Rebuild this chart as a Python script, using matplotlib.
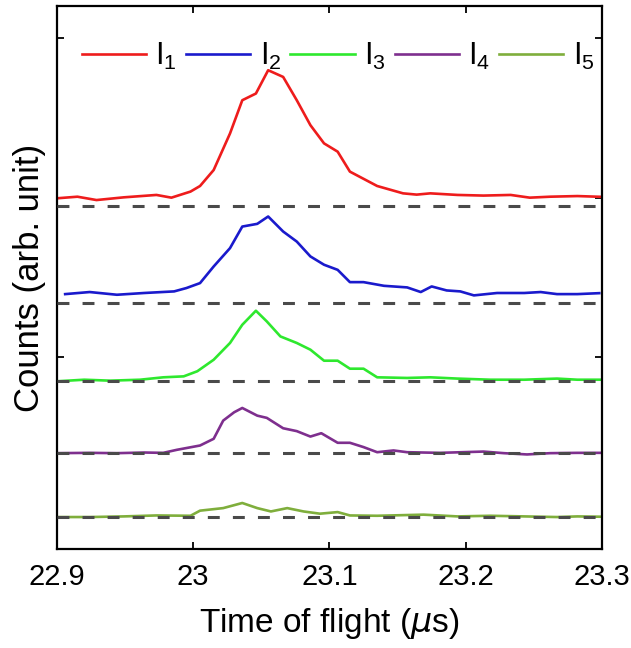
import matplotlib
matplotlib.use('Agg')
import matplotlib.pyplot as plt
from matplotlib.ticker import FuncFormatter

FONT_SIZE = 21

#time of flight (us) and counts for each trace
t_1 = [22.900, 22.915, 22.929, 22.949, 22.973, 22.984, 22.998, 23.005, 23.015, 23.027,
       23.036, 23.046, 23.055, 23.066, 23.076, 23.086, 23.096, 23.106, 23.115, 23.135,
       23.154, 23.164, 23.174, 23.194, 23.213, 23.233, 23.247, 23.262, 23.282, 23.300]
i_1 = [0.046, 0.056, 0.035, 0.052, 0.067, 0.050, 0.088, 0.123, 0.223, 0.452,
       0.660, 0.702, 0.848, 0.806, 0.660, 0.504, 0.390, 0.338, 0.213, 0.123,
       0.077, 0.069, 0.077, 0.067, 0.063, 0.067, 0.050, 0.056, 0.060, 0.055]

t_2 = [22.906, 22.924, 22.944, 22.964, 22.986, 22.995, 23.005, 23.015, 23.027, 23.036,
       23.047, 23.055, 23.066, 23.076, 23.086, 23.096, 23.106, 23.115, 23.125, 23.140,
       23.157, 23.167, 23.175, 23.186, 23.196, 23.206, 23.223, 23.243, 23.255, 23.267,
       23.282, 23.298]
i_2 = [0.056, 0.069, 0.052, 0.063, 0.073, 0.094, 0.125, 0.229, 0.344, 0.479,
       0.496, 0.542, 0.448, 0.385, 0.292, 0.240, 0.208, 0.131, 0.131, 0.108,
       0.098, 0.069, 0.104, 0.079, 0.073, 0.048, 0.063, 0.063, 0.069, 0.056,
       0.056, 0.062]

t_3 = [22.900, 22.920, 22.939, 22.961, 22.978, 22.993, 23.003, 23.015, 23.027, 23.036,
       23.046, 23.054, 23.064, 23.076, 23.086, 23.096, 23.106, 23.115, 23.125, 23.135,
       23.157, 23.174, 23.194, 23.218, 23.243, 23.267, 23.282, 23.300]
i_3 = [0.000, 0.010, 0.004, 0.010, 0.025, 0.031, 0.063, 0.135, 0.240, 0.354,
       0.442, 0.375, 0.281, 0.240, 0.198, 0.129, 0.129, 0.079, 0.079, 0.025,
       0.021, 0.025, 0.017, 0.010, 0.010, 0.017, 0.010, 0.010]

t_4 = [22.900, 22.924, 22.944, 22.964, 22.978, 22.988, 23.005, 23.015, 23.022, 23.030,
       23.036, 23.047, 23.054, 23.066, 23.076, 23.086, 23.094, 23.106, 23.115, 23.125,
       23.135, 23.147, 23.157, 23.181, 23.213, 23.228, 23.245, 23.262, 23.282, 23.300]
i_4 = [0.000, 0.002, 0.000, 0.004, 0.002, 0.021, 0.048, 0.090, 0.204, 0.256,
       0.283, 0.235, 0.221, 0.156, 0.138, 0.104, 0.125, 0.065, 0.065, 0.038,
       0.006, 0.017, 0.006, 0.002, 0.010, 0.000, -0.008, 0.000, 0.002, 0.002]

t_5 = [22.900, 22.924, 22.949, 22.973, 22.998, 23.005, 23.022, 23.036, 23.047, 23.057,
       23.069, 23.081, 23.093, 23.106, 23.115, 23.135, 23.169, 23.194, 23.218, 23.243,
       23.267, 23.282, 23.300]
i_5 = [0.000, 0.000, 0.004, 0.010, 0.008, 0.040, 0.056, 0.088, 0.056, 0.035,
       0.056, 0.035, 0.021, 0.031, 0.010, 0.008, 0.015, 0.004, 0.008, 0.004,
       0.000, 0.004, 0.002]

#vertical offset of each trace (zero level, drawn dashed)
offsets = [1.95, 1.34, 0.85, 0.40, 0.0]
labels = ["$\\mathregular{I_1}$", "$\\mathregular{I_2}$", "$\\mathregular{I_3}$",
          "$\\mathregular{I_4}$", "$\\mathregular{I_5}$"]
colors = ["#ee1c1c", "#1a1acc", "#2ee82e", "#7e2f8e", "#7fae3c"]

x_ticks = [22.9, 23.0, 23.1, 23.2, 23.3]
y_ticks = [0, 1, 2, 3]

plt.rcParams['font.family'] = ['Liberation Sans', 'DejaVu Sans']
plt.rcParams['mathtext.fontset'] = 'custom'
plt.rcParams['mathtext.rm'] = 'Liberation Sans'

fig = plt.figure(figsize=(6.31, 6.48), dpi=100)
ax = fig.add_axes([0.0903, 0.1528, 0.8637, 0.8379])

times = [t_1, t_2, t_3, t_4, t_5]
counts = [i_1, i_2, i_3, i_4, i_5]
handles = []
for t, c, off, col, lab in zip(times, counts, offsets, colors, labels):
    line, = ax.plot(t, [v + off for v in c], color=col, lw=1.9, label=lab, zorder=2)
    handles.append(line)
    #zero level of the trace, on top of the curve
    ax.axhline(off, color="#4a4a4a", lw=2.2, ls=(0, (3.9, 4.3)), zorder=3)

ax.set_xlim(22.9, 23.3)
ax.set_ylim(-0.2, 3.2)
ax.set_xticks(x_ticks)
ax.set_yticks(y_ticks)
ax.set_yticklabels([])
ax.xaxis.set_major_formatter(FuncFormatter(lambda v, p: "%g" % round(v, 1)))
ax.tick_params(direction='in', length=5, width=1.3, top=True, right=True,
               labelsize=FONT_SIZE, pad=10)
for sp in ax.spines.values():
    sp.set_linewidth(1.6)

ax.set_xlabel("Time of flight ($\\mu$s)", fontsize=24, labelpad=11)
ax.set_ylabel("Counts (arb. unit)", fontsize=25, labelpad=-2)

ax.legend(handles=handles, loc='upper center', bbox_to_anchor=(0.516, 0.97), ncol=5,
          frameon=False, fontsize=22, handlelength=2.1, handletextpad=0.3,
          columnspacing=0.3, borderaxespad=0.2)

fig.savefig("out.png", dpi=100)
